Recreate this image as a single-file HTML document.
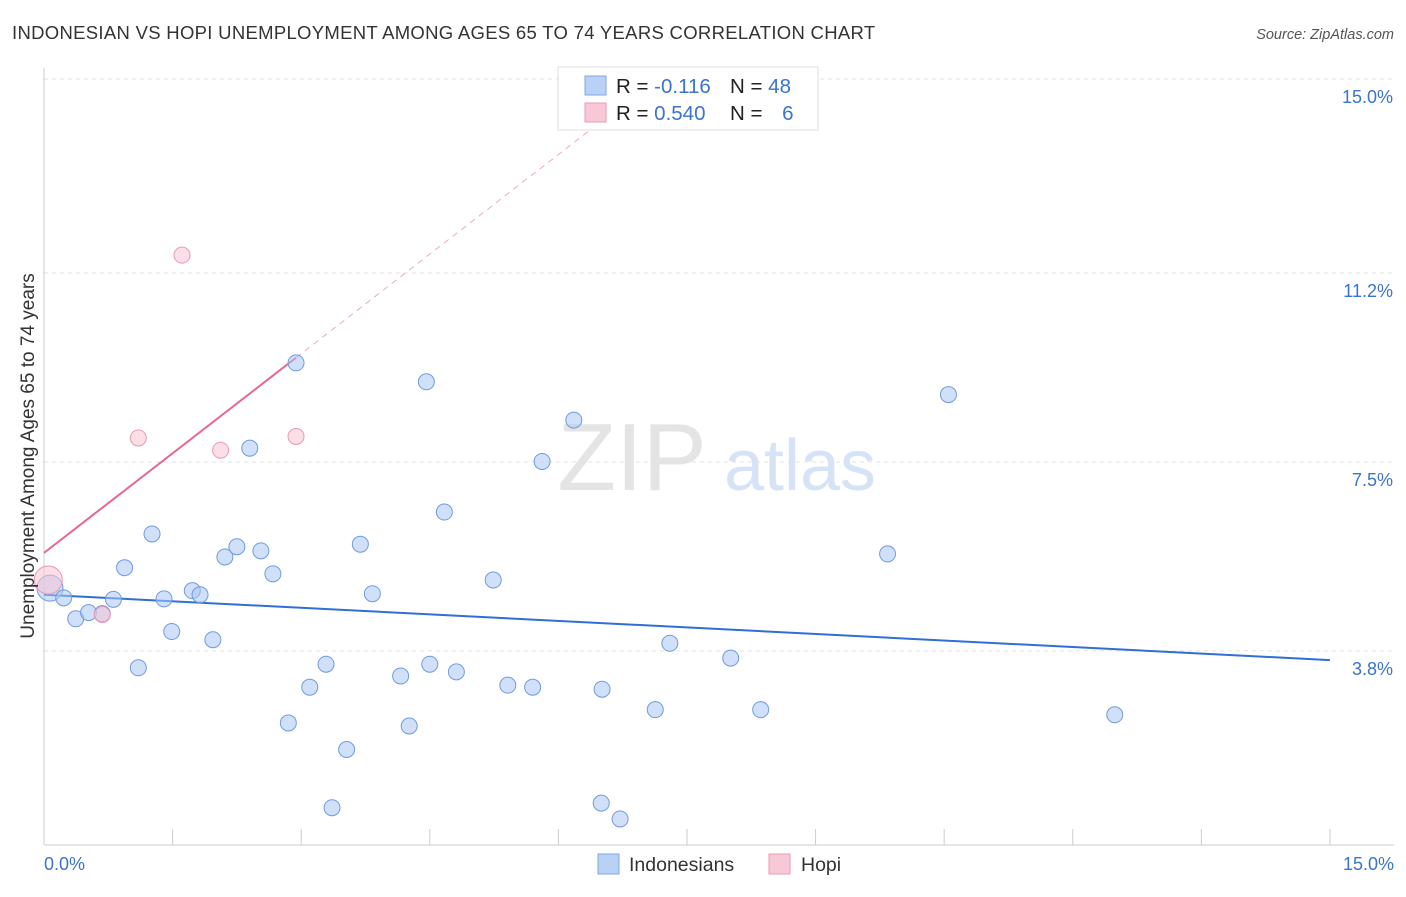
<!DOCTYPE html>
<html><head><meta charset="utf-8"><style>
body{margin:0;background:#fff;font-family:"Liberation Sans",sans-serif;}
svg text{font-family:"Liberation Sans",sans-serif;}
</style></head><body>
<svg id="chart" width="1406" height="892" xmlns="http://www.w3.org/2000/svg">
<text x="12" y="39" font-size="18.5" letter-spacing="0.3" fill="#333">INDONESIAN VS HOPI UNEMPLOYMENT AMONG AGES 65 TO 74 YEARS CORRELATION CHART</text>
<text x="1394" y="39" font-size="14.5" fill="#555" font-style="italic" text-anchor="end">Source: ZipAtlas.com</text>
<g>
<text x="632" y="490" font-size="96" fill="#e4e4e4" font-family="Liberation Serif" text-anchor="middle">ZIP</text>
<text x="800" y="490" font-size="72" fill="#d6e3f6" text-anchor="middle">atlas</text>
</g>
<g id="grid"></g>
<g id="axes"></g>
<g id="trends"></g>
<g id="points"></g>
<text transform="translate(34,456) rotate(-90)" font-size="19" fill="#333" text-anchor="middle">Unemployment Among Ages 65 to 74 years</text>
<text x="44" y="870" font-size="18" fill="#3a74d0">0.0%</text>
<text x="1394" y="870" font-size="18" fill="#3a74d0" text-anchor="end">15.0%</text>
<g>
<rect x="558" y="67" width="260" height="63" fill="#fff" stroke="#ddd"/>
<rect x="585" y="76" width="21" height="19" fill="#b9d1f5" stroke="#7fa6e6"/>
<rect x="585" y="103" width="21" height="19" fill="#f9c8d6" stroke="#ee9ab4"/>
<text x="616" y="93" font-size="20.5" fill="#222">R = <tspan fill="#3a74d0">-0.116</tspan></text>
<text x="730" y="93" font-size="20.5" fill="#222">N = <tspan fill="#3a74d0">48</tspan></text>
<text x="616" y="120" font-size="20.5" fill="#222">R = <tspan fill="#3a74d0">0.540</tspan></text>
<text x="730" y="120" font-size="20.5" fill="#222">N = <tspan fill="#3a74d0" dx="14">6</tspan></text>
</g>
<g>
<rect x="598" y="854" width="21" height="20" fill="#b9d1f5" stroke="#7fa6e6"/>
<text x="629" y="871" font-size="19.5" fill="#333">Indonesians</text>
<rect x="769" y="854" width="21" height="20" fill="#f9c8d6" stroke="#ee9ab4"/>
<text x="801" y="871" font-size="19.5" fill="#333">Hopi</text>
</g>
</svg>
<script>
const yTicks=[15.0,11.2,7.5,3.8];
const yTickLabels=["15.0%","11.2%","7.5%","3.8%"];
const xTicks=[0,1.5,3,4.5,6,7.5,9,10.5,12,13.5,15];
const indoX=[0.07,0.23,0.37,0.52,0.68,0.81,0.94,1.10,1.26,1.40,1.49,1.73,1.82,1.97,2.11,2.25,2.40,2.53,2.67,2.85,2.94,3.10,3.29,3.36,3.53,3.69,3.83,4.16,4.26,4.46,4.50,4.67,4.81,5.24,5.41,5.70,5.81,6.18,6.50,6.51,6.72,7.13,7.30,8.01,8.36,9.84,10.55,12.49];
const indoY=[5.03,4.84,4.43,4.55,4.53,4.81,5.43,3.47,6.09,4.82,4.18,4.98,4.90,4.02,5.64,5.84,7.77,5.76,5.31,2.39,9.44,3.09,3.54,0.73,1.87,5.89,4.92,3.31,2.33,9.07,3.54,6.52,3.39,5.19,3.13,3.09,7.51,8.32,0.82,3.05,0.51,2.65,3.95,3.66,2.65,5.70,8.82,2.55];
const hopiX=[0.05,0.68,1.10,1.61,2.06,2.94];
const hopiY=[5.19,4.51,7.97,11.55,7.73,8.0];
const indoTrend=[4.90,-0.0853];
const hopiTrend=[5.72,1.30];
const NS="http://www.w3.org/2000/svg";
const X=v=>44+v*85.73, Y=v=>845-v*51.07;
function mk(tag,attrs,parent){const e=document.createElementNS(NS,tag);for(const k in attrs)e.setAttribute(k,attrs[k]);parent.appendChild(e);return e;}
const grid=document.getElementById('grid'),axes=document.getElementById('axes'),tr=document.getElementById('trends'),pts=document.getElementById('points');
yTicks.forEach((t,i)=>{
 const l=mk('line',{x1:44,x2:1394,y1:Y(t),y2:Y(t),stroke:'#e2e2e2','stroke-dasharray':'4,4'},grid);
 
 
 const tx=mk('text',{x:1393,y:Y(t)+24,'font-size':18,fill:'#3a74d0','text-anchor':'end'},grid);
 tx.textContent=yTickLabels[i];
 
 
});
const ya=mk('line',{x1:44,x2:44,y1:68,y2:845,stroke:'#ccc'},axes);


const xa=mk('line',{x1:44,x2:1394,y1:845,y2:845,stroke:'#ccc'},axes);


xTicks.forEach(t=>{
 const l=mk('line',{x1:X(t),x2:X(t),y1:829,y2:845,stroke:'#ccc'},axes);
 
 
});
const bl=mk('line',{x1:X(0),y1:Y(indoTrend[0]),x2:X(15),y2:Y(indoTrend[0]+indoTrend[1]*15),stroke:'#2f6fd6','stroke-width':2},tr);


const hx=Math.max(...hopiX);
const ps=mk('line',{x1:X(0),y1:Y(hopiTrend[0]),x2:X(hx),y2:Y(hopiTrend[0]+hopiTrend[1]*hx),stroke:'#e8668f','stroke-width':2},tr);


const pd=mk('line',{x1:X(hx),y1:Y(hopiTrend[0]+hopiTrend[1]*hx),x2:X(6.5),y2:Y(hopiTrend[0]+hopiTrend[1]*6.5),stroke:'#eeaabf','stroke-width':1,'stroke-dasharray':'6,5'},tr);


indoX.forEach((x,i)=>{
 const c=mk('circle',{cx:X(x),cy:Y(indoY[i]),r:i==0?13:8,fill:'rgba(170,198,242,0.55)',stroke:'#6f9be0','stroke-width':1},pts);
 
 
});
hopiX.forEach((x,i)=>{
 const c=mk('circle',{cx:X(x),cy:Y(hopiY[i]),r:i==0?14:8,fill:'rgba(248,196,212,0.55)',stroke:'#ec98b2','stroke-width':1},pts);
 
 
});
</script>
</body></html>
